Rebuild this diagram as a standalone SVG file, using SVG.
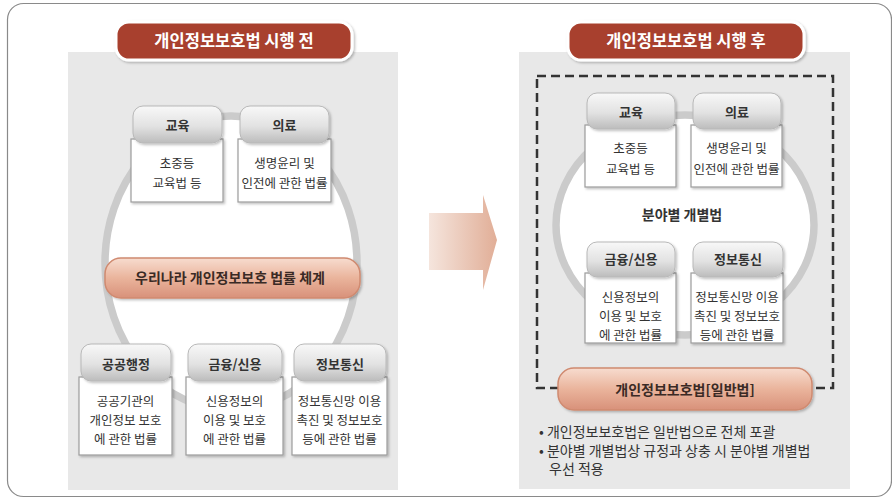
<svg xmlns="http://www.w3.org/2000/svg" width="892" height="500" viewBox="0 0 892 500">
<defs>
  <linearGradient id="hdrGrad" x1="0" y1="0" x2="0" y2="1">
    <stop offset="0" stop-color="#f8f8f8"/>
    <stop offset="0.55" stop-color="#e2e2e2"/>
    <stop offset="1" stop-color="#bcbcbc"/>
  </linearGradient>
  <linearGradient id="bandGrad" x1="0" y1="0" x2="0" y2="1">
    <stop offset="0" stop-color="#f7dccf"/>
    <stop offset="0.5" stop-color="#eab49c"/>
    <stop offset="1" stop-color="#d8917a"/>
  </linearGradient>
  <linearGradient id="arrowGrad" x1="0" y1="0" x2="1" y2="0">
    <stop offset="0" stop-color="#f5e5dd"/>
    <stop offset="1" stop-color="#e1ae97"/>
  </linearGradient>
  <filter id="shadow" x="-10%" y="-10%" width="125%" height="130%">
    <feDropShadow dx="1.5" dy="1.5" stdDeviation="1" flood-color="#000" flood-opacity="0.25"/>
  </filter>
  <style>
    .frame { fill: #ffffff; stroke: #8a8a8a; stroke-width: 1.2; }
    .panel { fill: #e8e8e8; }
    .ring { fill: #ffffff; stroke: #cbcbcb; stroke-width: 7.5; }
    .pill { fill: #a8402d; stroke: #ffffff; stroke-width: 3; }
    .pillText { font-family: "Noto Sans CJK KR", "Noto Sans", sans-serif; font-size: 16.5px; font-weight: 700; fill: #ffffff; text-anchor: middle; }
    .hdr { fill: url(#hdrGrad); stroke: #b8b8b8; stroke-width: 1; }
    .body { fill: #ffffff; stroke: #9c9c9c; stroke-width: 1.2; }
    .hdrText { font-family: "Noto Sans CJK KR", "Noto Sans", sans-serif; font-size: 13px; font-weight: 700; fill: #333333; text-anchor: middle; }
    .bodyText { font-family: "Noto Sans CJK KR", "Noto Sans", sans-serif; font-size: 12.5px; fill: #333333; text-anchor: middle; }
    .band { fill: url(#bandGrad); stroke: #d08a70; stroke-width: 1.5; }
    .bandText { font-family: "Noto Sans CJK KR", "Noto Sans", sans-serif; font-size: 14px; font-weight: 700; fill: #3a2a25; text-anchor: middle; }
    .midText { font-family: "Noto Sans CJK KR", "Noto Sans", sans-serif; font-size: 14px; font-weight: 700; fill: #333333; text-anchor: middle; }
    .note { font-family: "Noto Sans CJK KR", "Noto Sans", sans-serif; font-size: 14px; fill: #333333; }
    .dash { fill: none; stroke: #333333; stroke-width: 2.5; stroke-dasharray: 9 5; }
  </style>
</defs>

<rect x="0" y="0" width="892" height="500" fill="#ffffff"/>
<rect class="frame" x="7.5" y="3.5" width="884" height="493" rx="16"/>

<!-- LEFT: before -->
<g id="panel-before">
  <rect class="panel" x="68" y="52" width="330" height="438"/>
  <ellipse class="ring" cx="231" cy="263" rx="126" ry="147"/>
</g>
<g id="title-before">
  <rect class="pill" x="116" y="22" width="236" height="38" rx="13" filter="url(#shadow)"/>
  <text class="pillText" x="234" y="47">개인정보보호법 시행 전</text>
</g>

<g id="edu-before">
  <rect class="body" x="131" y="139" width="92" height="63" filter="url(#shadow)"/>
  <rect class="hdr" x="133" y="106" width="89" height="37" rx="10" filter="url(#shadow)"/>
  <text class="hdrText" x="177.5" y="129.5">교육</text>
  <text class="bodyText" x="177" y="167.5">초중등</text>
  <text class="bodyText" x="177" y="187.5">교육법 등</text>
</g>
<g id="med-before">
  <rect class="body" x="238" y="139" width="93" height="63" filter="url(#shadow)"/>
  <rect class="hdr" x="240" y="106" width="89" height="37" rx="10" filter="url(#shadow)"/>
  <text class="hdrText" x="284.5" y="129.5">의료</text>
  <text class="bodyText" x="284.5" y="167.5">생명윤리 및</text>
  <text class="bodyText" x="284.5" y="187.5">인전에 관한 법률</text>
</g>

<g id="law-system-before">
  <rect class="band" x="105" y="258" width="255" height="40" rx="16" filter="url(#shadow)"/>
  <text class="bandText" x="230" y="283">우리나라 개인정보보호 법률 체계</text>
</g>

<g id="public-before">
  <rect class="body" x="79" y="377" width="93" height="78" filter="url(#shadow)"/>
  <rect class="hdr" x="81" y="344" width="90" height="37" rx="10" filter="url(#shadow)"/>
  <text class="hdrText" x="126" y="368.5">공공행정</text>
  <text class="bodyText" x="125.5" y="406">공공기관의</text>
  <text class="bodyText" x="125.5" y="425">개인정보 보호</text>
  <text class="bodyText" x="125.5" y="444">에 관한 법률</text>
</g>
<g id="finance-before">
  <rect class="body" x="186" y="377" width="97" height="78" filter="url(#shadow)"/>
  <rect class="hdr" x="188" y="344" width="94" height="37" rx="10" filter="url(#shadow)"/>
  <text class="hdrText" x="235" y="368.5">금융/신용</text>
  <text class="bodyText" x="234.5" y="406">신용정보의</text>
  <text class="bodyText" x="234.5" y="425">이용 및 보호</text>
  <text class="bodyText" x="234.5" y="444">에 관한 법률</text>
</g>
<g id="ict-before">
  <rect class="body" x="292" y="377" width="95" height="78" filter="url(#shadow)"/>
  <rect class="hdr" x="294" y="344" width="92" height="37" rx="10" filter="url(#shadow)"/>
  <text class="hdrText" x="340" y="368.5">정보통신</text>
  <text class="bodyText" x="339.5" y="406">정보통신망 이용</text>
  <text class="bodyText" x="339.5" y="425">촉진 및 정보보호</text>
  <text class="bodyText" x="339.5" y="444">등에 관한 법률</text>
</g>

<!-- connector arrow -->
<g id="connectors">
  <polygon points="429,213 483,213 483,195 497,240 483,290 483,270 429,270" fill="url(#arrowGrad)"/>
</g>

<!-- RIGHT: after -->
<g id="panel-after">
  <rect class="panel" x="519" y="52" width="331" height="437"/>
  <rect class="dash" x="537" y="76" width="296" height="312"/>
  <ellipse class="ring" cx="685" cy="225" rx="129" ry="110"/>
</g>
<g id="title-after">
  <rect class="pill" x="568" y="22" width="236" height="38" rx="13" filter="url(#shadow)"/>
  <text class="pillText" x="686" y="47">개인정보보호법 시행 후</text>
</g>

<g id="edu-after">
  <rect class="body" x="585" y="125" width="91" height="62" filter="url(#shadow)"/>
  <rect class="hdr" x="587" y="93" width="88" height="36" rx="10" filter="url(#shadow)"/>
  <text class="hdrText" x="631" y="116.5">교육</text>
  <text class="bodyText" x="630.5" y="152.5">초중등</text>
  <text class="bodyText" x="630.5" y="173.5">교육법 등</text>
</g>
<g id="med-after">
  <rect class="body" x="691" y="125" width="91" height="62" filter="url(#shadow)"/>
  <rect class="hdr" x="693" y="93" width="88" height="36" rx="10" filter="url(#shadow)"/>
  <text class="hdrText" x="737" y="116.5">의료</text>
  <text class="bodyText" x="736.5" y="152.5">생명윤리 및</text>
  <text class="bodyText" x="736.5" y="173.5">인전에 관한 법률</text>
</g>

<g id="sector-laws">
  <text class="midText" x="682" y="220">분야별 개별법</text>
</g>

<g id="finance-after">
  <rect class="body" x="585" y="273" width="91" height="70" filter="url(#shadow)"/>
  <rect class="hdr" x="587" y="242" width="88" height="35" rx="10" filter="url(#shadow)"/>
  <text class="hdrText" x="631" y="264">금융/신용</text>
  <text class="bodyText" x="630.5" y="301.5">신용정보의</text>
  <text class="bodyText" x="630.5" y="321">이용 및 보호</text>
  <text class="bodyText" x="630.5" y="340">에 관한 법률</text>
</g>
<g id="ict-after">
  <rect class="body" x="691" y="273" width="92" height="70" filter="url(#shadow)"/>
  <rect class="hdr" x="693" y="242" width="90" height="35" rx="10" filter="url(#shadow)"/>
  <text class="hdrText" x="738" y="264">정보통신</text>
  <text class="bodyText" x="737" y="301.5">정보통신망 이용</text>
  <text class="bodyText" x="737" y="321">촉진 및 정보보호</text>
  <text class="bodyText" x="737" y="340">등에 관한 법률</text>
</g>

<g id="general-law">
  <rect class="band" x="558" y="368" width="254" height="42" rx="16" filter="url(#shadow)"/>
  <text class="bandText" x="685" y="394.5">개인정보보호법[일반법]</text>
</g>

<g id="notes">
  <text class="note" x="539" y="437">• 개인정보보호법은 일반법으로 전체 포괄</text>
  <text class="note" x="539" y="455.5">• 분야별 개별법상 규정과 상충 시 분야별 개별법</text>
  <text class="note" x="549" y="474">우선 적용</text>
</g>
</svg>
